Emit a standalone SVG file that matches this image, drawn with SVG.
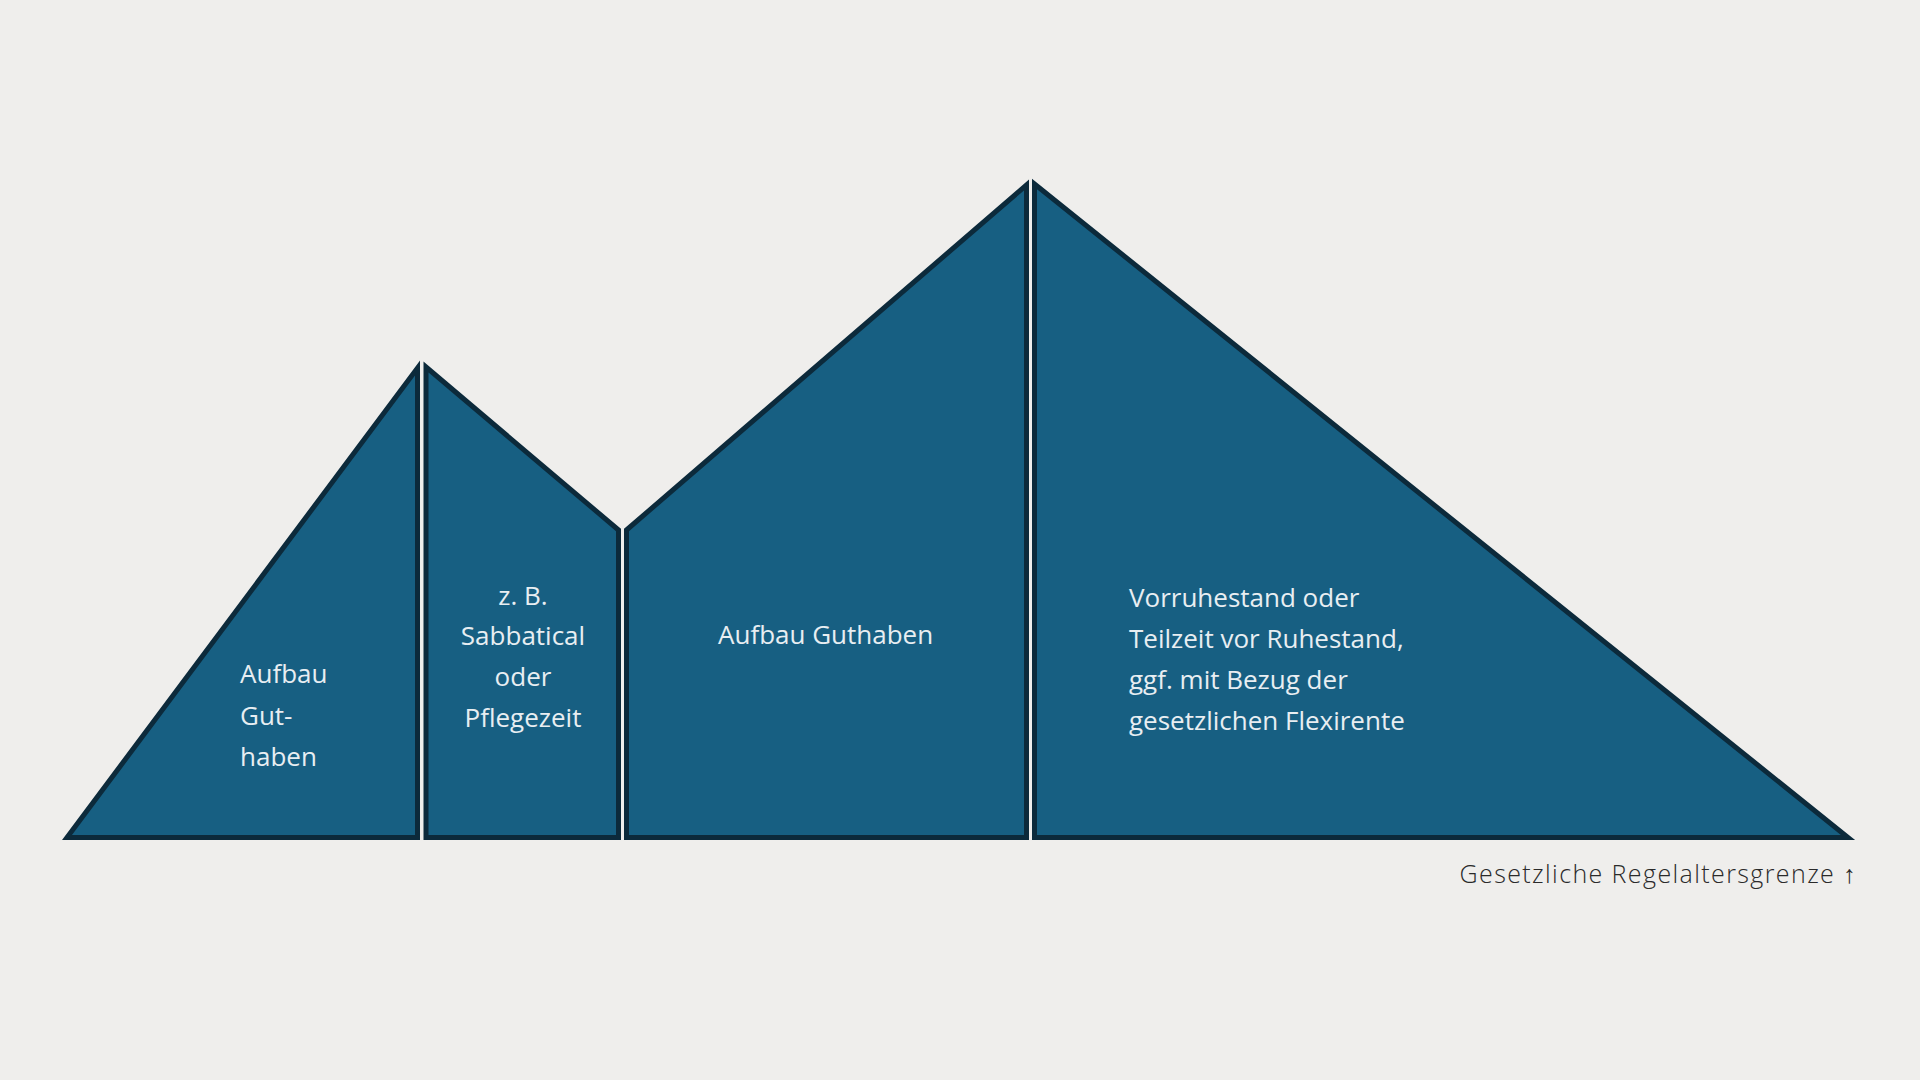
<svg xmlns="http://www.w3.org/2000/svg" width="1920" height="1080" viewBox="0 0 1920 1080">
  <style>
    .shape { fill: #175f82; stroke: #0c2a3b; stroke-width: 5; stroke-linejoin: miter; stroke-miterlimit: 10; }
    .lbl { font-family: "Open Sans", "Liberation Sans", sans-serif; font-size: 26px; fill: #e8eef2; }
    .note { font-family: "Open Sans", "Liberation Sans", sans-serif; font-size: 25px; font-weight: 300; fill: #2a2a2a; letter-spacing: 1.4px; }
  </style>
  <rect x="0" y="0" width="1920" height="1080" fill="#efeeec"/>
  <g id="connectors"></g>
  <g id="node-aufbau-1">
    <polygon class="shape" points="67,837.5 417.5,368 417.5,837.5"/>
    <text class="lbl" x="240" y="683">Aufbau</text>
    <text class="lbl" x="240" y="725">Gut-</text>
    <text class="lbl" x="240" y="766">haben</text>
  </g>
  <g id="node-sabbatical">
    <polygon class="shape" points="426,367 618.5,530 618.5,837.5 426,837.5"/>
    <text class="lbl" x="523" y="605" text-anchor="middle">z. B.</text>
    <text class="lbl" x="523" y="645" text-anchor="middle">Sabbatical</text>
    <text class="lbl" x="523" y="686" text-anchor="middle">oder</text>
    <text class="lbl" x="523" y="727" text-anchor="middle">Pflegezeit</text>
  </g>
  <g id="node-aufbau-2">
    <polygon class="shape" points="626.5,530 1026.5,185 1026.5,837.5 626.5,837.5"/>
    <text class="lbl" x="718" y="644">Aufbau Guthaben</text>
  </g>
  <g id="node-vorruhestand">
    <polygon class="shape" points="1034.5,184 1848,837.5 1034.5,837.5"/>
    <text class="lbl" x="1129" y="607">Vorruhestand oder</text>
    <text class="lbl" x="1129" y="648">Teilzeit vor Ruhestand,</text>
    <text class="lbl" x="1129" y="689">ggf. mit Bezug der</text>
    <text class="lbl" x="1129" y="730">gesetzlichen Flexirente</text>
  </g>
  <g id="note">
    <text class="note" x="1857" y="883" text-anchor="end">Gesetzliche Regelaltersgrenze ↑</text>
  </g>
</svg>
